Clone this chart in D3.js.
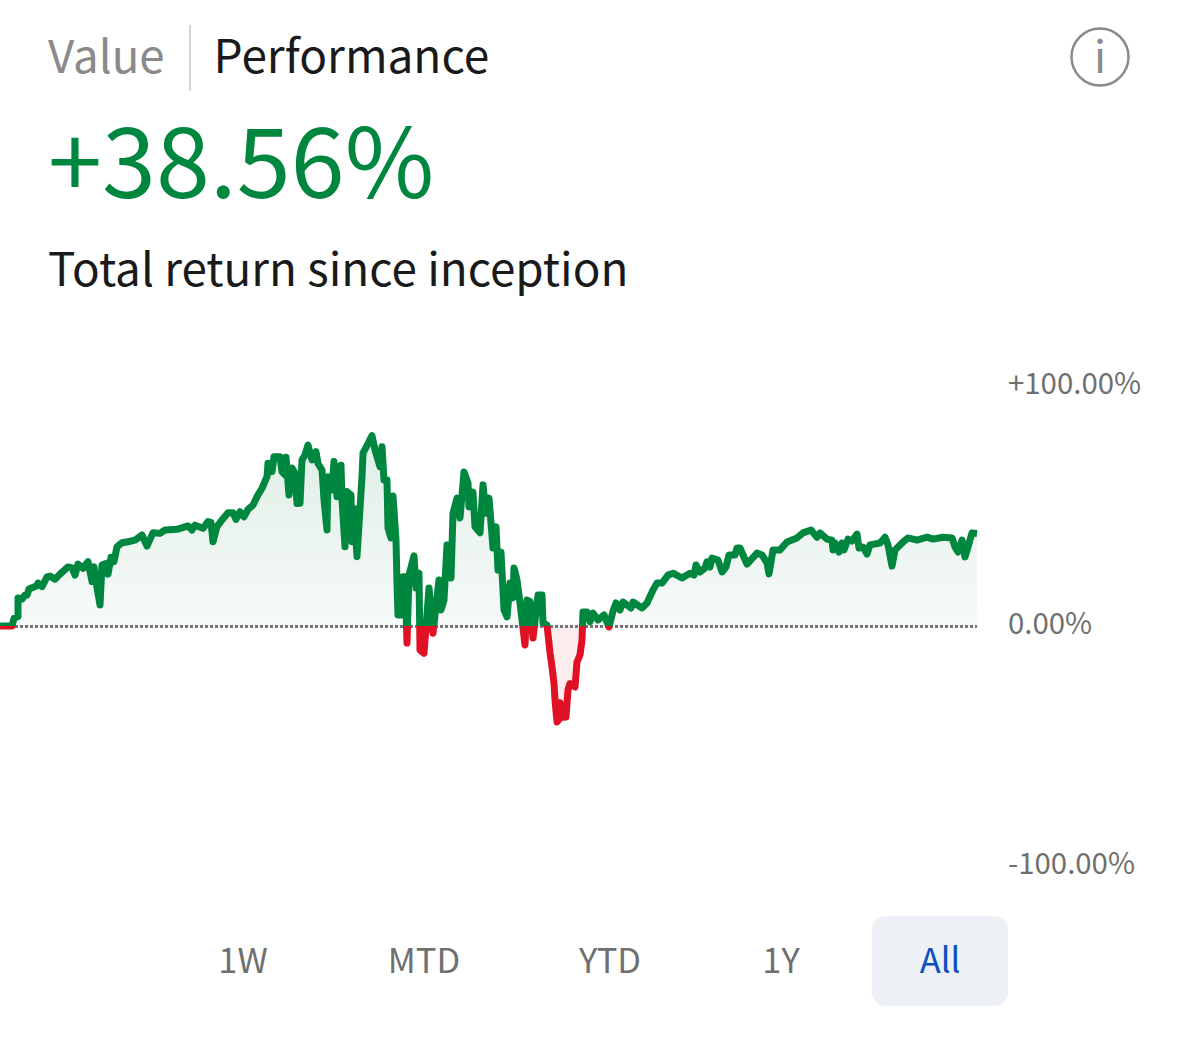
<!DOCTYPE html>
<html>
<head>
<meta charset="utf-8">
<script src="https://cdn.jsdelivr.net/npm/d3@7"></script>
<style>
  html, body { margin: 0; padding: 0; background: #fff; }
  svg { display: block; font-family: 'Noto Sans CJK JP', sans-serif; }
</style>
</head>
<body>
<svg width="1179" height="1057"></svg>
<script>
// trading-day position on the history axis
const days = [
  0,12,14,18,18,22,25,27,29,37,
  38,42,47,50,55,60,68,72,75,78,
  83,88,92,94,97,100,102,106,108,111,
  114,117,122,128,135,142,147,153,160,165,
  177,188,192,195,203,208,211,213,217,222,
  228,233,236,240,244,248,253,257,262,267,
  268,272,274,280,282,285,286,289,292,295,
  297,300,302,305,308,312,316,318,322,324,
  327,328,332,334,337,341,342,345,347,351,
  352,354,357,362,363,368,372,375,380,382,
  384,387,388,391,393,396,397,398,401,403,405,407,409,
  414,416,419,420,424,429,433,439,441,444,
  447,451,453,457,460,464,468,469,473,475,
  480,483,486,489,493,496,498,501,504,507,
  510,513,514,517,520,525,527,530,533,538,
  542,543,547,550,552,554,555,557,559,560,563,566,568,570,575,577,580,
  582,583,587,590,593,598,604,609,613,616,
  620,623,631,633,642,647,653,657,662,668,
  673,682,690,694,696,700,705,707,710,712,
  718,722,726,729,735,737,740,747,757,762,
  767,769,773,780,787,797,803,811,817,820,
  827,832,833,835,839,842,844,848,852,857,
  859,863,867,870,880,885,888,892,895,903,
  908,917,927,933,943,952,955,958,962,965,
  968,972,977
];
// total return in percent for each day above
const returns = [
  0,0,3.2,3.9,11.7,11.2,12.9,12.9,15.4,16.8,
  17.9,16.4,20.5,20.8,19.5,21.6,24.6,24.2,21.2,25.8,
  24,26.8,18.5,24.7,16,8.8,25.4,26.1,21.6,28.6,
  26.8,33,34.7,35.1,35.8,37.9,33.3,38.9,38.6,40,
  40.3,41.7,40,42,40.7,43.5,43.2,35.1,41.4,44.2,
  47.2,47.2,44.4,47.6,45.5,48.6,50.4,53.9,57.4,62.2,
  67.8,64.3,70.5,70.5,64.3,62.9,70.3,54.6,65.8,63.7,
  51,51.1,69.2,71.2,75.4,69.2,72.6,67.7,65,52.5,
  40,62.2,56.7,68.5,53.9,67,52.5,33,56,54.6,
  35.1,49,28.9,62.2,72,76,79.3,73.3,66.4,74.7,
  60.8,60.8,40.8,36.7,54.2,35.8,18,4.6,4.6,20.5,20.5,-7.1,21.2,
  29.2,15.8,22,-10,-11.4,15.8,-3,19.2,6.7,10.8,
  33.8,20,47,53.3,45,64.2,59.6,49.6,55.8,41.3,
  38.8,58.8,47,53.3,32.5,41.3,23.3,30.8,6.7,3.8,
  17.9,11.7,24.2,19.2,9.6,-7.9,10.8,10.2,-5,12.9,
  12.9,1.3,0.4,-11,-17,-24,-30.8,-40,-39,-32,-38,-37.9,-26.7,-24,-25.4,-15,-12,
  -5.8,5.8,5.8,1.8,5.4,2.5,4.6,-0.4,6.2,9.6,
  6.7,10,7.5,10,7.5,9.6,15,17.9,17.9,21.2,
  22,20,22,21.2,25.4,22.5,24.2,26.7,24.6,28.3,
  27.5,22.5,24.6,29.6,29.6,32.5,32.5,25.8,30.4,29.6,
  26.3,21.7,31.7,31.7,35,36.7,38.8,40,37,38.8,
  36.2,35.8,31.7,34.6,30.8,34.6,31.7,36.2,35.4,38.3,
  32.5,32.9,30,33.8,34.6,37,33.8,25,31.7,35,
  36.7,35.8,37,36.2,37,36.7,32.9,30.8,35.8,28.8,
  32.9,38.8,38.56
];
const tickValues = [100, 0, -100];
const tickLabels = ['+100.00%', '0.00%', '-100.00%'];
const ranges = ['1W', 'MTD', 'YTD', '1Y', 'All'];
const rangeCentres = [243, 424, 610, 781, 940];

const svg = d3.select('svg');
const green = '#00873f';
const red = '#e01124';

const x = d3.scaleLinear().domain([0, 977]).range([0, 977]);
const y = d3.scaleLinear().domain([-100, 100]).range([866, 386]);
const zero = y(0);

const points = days.map((d, i) => [d, returns[i]]);

const defs = svg.append('defs');
const gradient = defs.append('linearGradient')
  .attr('id', 'upFill').attr('gradientUnits', 'userSpaceOnUse')
  .attr('x1', 0).attr('x2', 0).attr('y1', y(80)).attr('y2', zero);
gradient.append('stop').attr('offset', '0%').attr('stop-color', '#e0eee7');
gradient.append('stop').attr('offset', '100%').attr('stop-color', '#f6faf8');
defs.append('clipPath').attr('id', 'above').append('rect')
  .attr('x', 0).attr('y', 0).attr('width', 1179).attr('height', zero);
defs.append('clipPath').attr('id', 'below').append('rect')
  .attr('x', 0).attr('y', zero).attr('width', 1179).attr('height', 1057 - zero);

const line = d3.line().x((d) => x(d[0])).y((d) => y(d[1]));
const area = d3.area().x((d) => x(d[0])).y0(zero).y1((d) => y(d[1]));

// fills first, then dotted baseline, then the two clipped copies of the line
svg.append('path').attr('d', area(points)).attr('fill', 'url(#upFill)').attr('clip-path', 'url(#above)');
svg.append('path').attr('d', area(points)).attr('fill', '#fbeced').attr('clip-path', 'url(#below)');

svg.append('line')
  .attr('x1', x(0)).attr('x2', x(977)).attr('y1', zero + 0.5).attr('y2', zero + 0.5)
  .attr('stroke', '#757575').attr('stroke-width', 3).attr('stroke-dasharray', '3 2');

[['above', green], ['below', red]].forEach(([clip, colour]) => {
  svg.append('path')
    .attr('d', line(points))
    .attr('fill', 'none')
    .attr('stroke', colour)
    .attr('stroke-width', 7)
    .attr('stroke-linejoin', 'round')
    .attr('stroke-linecap', 'butt')
    .attr('clip-path', `url(#${clip})`);
});

// y axis labels only, no axis line
const axis = d3.axisRight(y).tickValues(tickValues)
  .tickSize(0).tickFormat((d, i) => tickLabels[i]);
const axisG = svg.append('g').attr('transform', 'translate(1008,-2)').call(axis);
axisG.select('.domain').remove();
axisG.selectAll('text')
  .attr('x', 0).attr('font-size', 29.4).attr('font-family', 'Noto Sans CJK JP').attr('fill', '#6f6f6f');

// header
svg.append('text').attr('x', 48).attr('y', 73).attr('font-size', 45.6).attr('fill', '#8a8a8a').text('Value');
svg.append('line').attr('x1', 190).attr('x2', 190).attr('y1', 25).attr('y2', 91).attr('stroke', '#d4d4d4').attr('stroke-width', 2);
svg.append('text').attr('x', 213.5).attr('y', 73).attr('font-size', 46).attr('fill', '#1a1a1a').text('Performance');
svg.append('text').attr('x', 48).attr('y', 198).attr('font-size', 97.2).attr('fill', green).text('+38.56%');
svg.append('text').attr('x', 48).attr('y', 286).attr('font-size', 45.8).attr('fill', '#1a1a1a').text('Total return since inception');

// info icon
svg.append('circle').attr('cx', 1100).attr('cy', 57).attr('r', 28.5).attr('fill', 'none').attr('stroke', '#8a8a8a').attr('stroke-width', 2.5);
svg.append('text').attr('x', 1100).attr('y', 73).attr('text-anchor', 'middle').attr('font-size', 44).attr('fill', '#8a8a8a').text('i');

// range selector
svg.append('rect').attr('x', 872).attr('y', 916).attr('width', 136).attr('height', 90).attr('rx', 14).attr('fill', '#edf0f5');
svg.selectAll('.range')
  .data(ranges)
  .enter()
  .append('text')
  .attr('class', 'range')
  .attr('x', (d, i) => rangeCentres[i])
  .attr('y', 973)
  .attr('text-anchor', 'middle')
  .attr('font-size', 34.5)
  .attr('fill', (d) => (d === 'All' ? '#0b4fc0' : '#6f6f6f'))
  .text((d) => d);
</script>
</body>
</html>
